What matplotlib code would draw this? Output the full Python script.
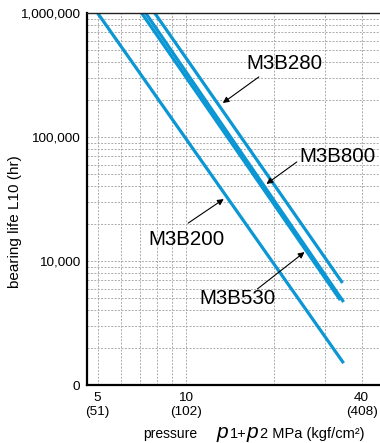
import numpy as np
import matplotlib
matplotlib.use("Agg")
from matplotlib import pyplot as plt
from matplotlib.ticker import FixedLocator, FixedFormatter, LogLocator, NullFormatter

plt.rcParams['font.family'] = ['Liberation Sans', 'DejaVu Sans']

# line end points (pressure MPa, life hours)
m3b200_x = [5.0, 34.7]
m3b200_y = [1.0e6, 1500]
m3b280_x = [7.84, 34.4]
m3b280_y = [1.0e6, 6650]
m3b800_x = [7.07, 33.8]
m3b800_y = [1.0e6, 4840]
m3b530_x = [7.30, 34.7]
m3b530_y = [1.0e6, 4670]

# ticks
x_ticks = [5, 10, 40]
x_labels = ['5\n(51)', '10\n(102)', '40\n(408)']
x_minor = [6, 7, 8, 9, 20, 30, 50]
y_ticks = [1e3, 1e4, 1e5, 1e6]
y_labels = ['0', '10,000', '100,000', '1,000,000']

# labels: name, text pos, arrow tail, arrow tip
labels = [
    ('M3B280', (21.8, 3.88e5), (17.8, 3.05e5), (13.4, 1.88e5)),
    ('M3B800', (33.1, 6.9e4), (24.0, 6.29e4), (18.9, 4.18e4)),
    ('M3B200', (10.1, 1.48e4), (10.2, 2.02e4), (13.5, 3.16e4)),
    ('M3B530', (15.1, 5030), (17.6, 5950), (25.5, 1.18e4)),
]

blue = '#0b96d4'

fig = plt.figure(figsize=(3.8, 4.43), dpi=100)
ax = fig.add_axes([87 / 380, 1 - 385 / 443, 303 / 380, 372 / 443])

for xs, ys in [(m3b200_x, m3b200_y), (m3b280_x, m3b280_y),
               (m3b800_x, m3b800_y), (m3b530_x, m3b530_y)]:
    ax.plot(xs, ys, color=blue, lw=2.3, solid_capstyle='butt')

ax.set_xscale('log')
ax.set_yscale('log')
ax.set_xlim(4.6, 50)
ax.set_ylim(1e3, 1e6)

ax.xaxis.set_major_locator(FixedLocator(x_ticks))
ax.xaxis.set_major_formatter(FixedFormatter(x_labels))
ax.xaxis.set_minor_locator(FixedLocator(x_minor))
ax.xaxis.set_minor_formatter(NullFormatter())
ax.yaxis.set_major_locator(FixedLocator(y_ticks))
ax.yaxis.set_major_formatter(FixedFormatter(y_labels))
ax.yaxis.set_minor_locator(LogLocator(base=10, subs=np.arange(2, 10)))
ax.yaxis.set_minor_formatter(NullFormatter())

ax.tick_params(which='both', length=0, labelsize=9.7)
ax.tick_params(axis='y', pad=5)
ax.tick_params(axis='x', pad=5)
ax.grid(which='both', ls=(0, (2, 1.5)), color='#ababab', lw=0.7)
ax.set_axisbelow(True)

for s in ['left', 'bottom']:
    ax.spines[s].set_linewidth(1.6)
ax.spines['top'].set_linewidth(1.0)
ax.spines['top'].set_color('#222222')

for name, tpos, tail, tip in labels:
    ax.text(tpos[0], tpos[1], name, fontsize=14.8, ha='center', va='center')
    ax.annotate('', xy=tip, xytext=tail,
                arrowprops=dict(arrowstyle='-|>', color='black', lw=0.8,
                                mutation_scale=9, shrinkA=0, shrinkB=0))

fig.text(15 / 380, 1 - 222 / 443, 'bearing life L10 (hr)', rotation=90,
         ha='center', va='center', fontsize=11)

# x axis caption
fig.text(170 / 380, 1 - 438 / 443, 'pressure', ha='center', va='baseline', fontsize=10)
fig.text(217 / 380, 1 - 438 / 443, 'p', ha='left', va='baseline', fontsize=15, style='italic')
fig.text(230 / 380, 1 - 438 / 443, '1+', ha='left', va='baseline', fontsize=10.5)
fig.text(247 / 380, 1 - 438 / 443, 'p', ha='left', va='baseline', fontsize=15, style='italic')
fig.text(260 / 380, 1 - 438 / 443, '2 MPa (kgf/cm²)', ha='left', va='baseline', fontsize=10.5)

fig.savefig('out.png', dpi=100)
